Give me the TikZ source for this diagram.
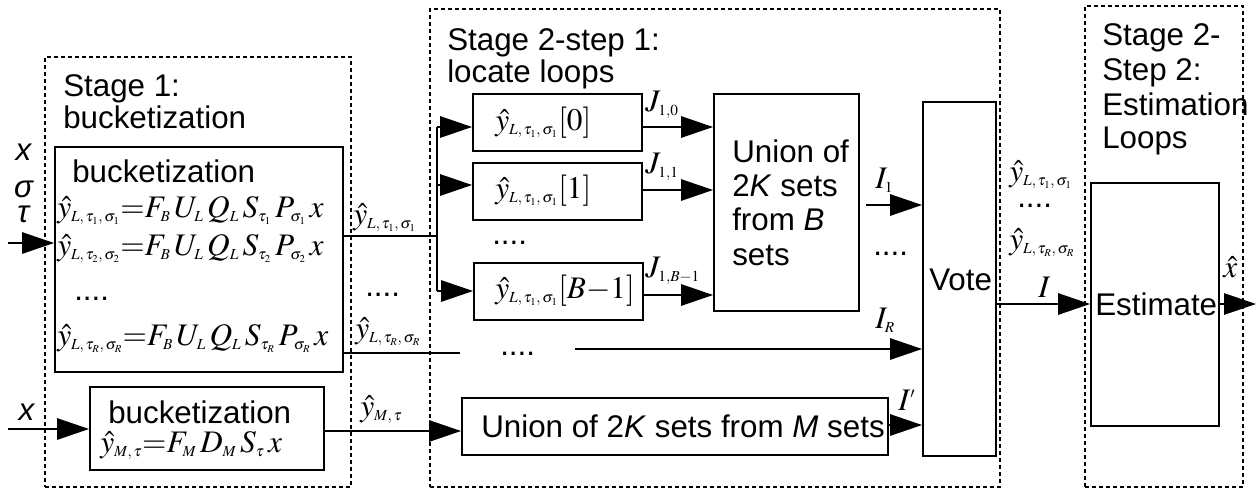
\documentclass[tikz,border=0pt]{standalone}
\usepackage{mathptmx}
\usepackage[no-math]{fontspec}
\setmainfont{Liberation Sans}
\usetikzlibrary{arrows.meta,fit}
\DeclareMathSizes{23.5}{23.5}{11.5}{8}
\newcommand{\bigfont}{\fontsize{23.5}{26}\selectfont}
\newcommand{\fsp}{\mskip2mu}
\newcommand{\sL}[2]{L,\,\tau_{#1},\,\sigma_{#2}}
\tikzset{
  blk/.style={draw, line width=1.4pt, inner sep=0pt},
  stage/.style={draw, line width=1.4pt, dash pattern=on 3pt off 2.25pt, inner sep=0pt},
  txt/.style={font=\bigfont, inner sep=0pt, anchor=base west},
  arr/.style={line width=1.4pt, -{Triangle[length=24pt,width=16pt]}},
  ln/.style={line width=1.4pt}
}
\begin{document}
\begin{tikzpicture}[x=0.75pt,y=-0.75pt]
\useasboundingbox (0,0) rectangle (1258,490);
% stage frames
\node[stage, fit={(45,57) (351,487)}] (st1) {};
\node[stage, fit={(430,9) (1000,487)}] (st2) {};
\node[stage, fit={(1085,6) (1243,487)}] (st3) {};
\node[txt] (st1a) at (63,96) {Stage 1:};
\node[txt] (st1b) at (63,128) {bucketization};
\node[txt] (st2a) at (447,50) {Stage 2-step 1:};
\node[txt] (st2b) at (447,82) {locate loops};
\node[txt] (st3a) at (1102,45) {Stage 2-};
\node[txt] (st3b) at (1102,80) {Step 2:};
\node[txt] (st3c) at (1102,115) {Estimation};
\node[txt] (st3d) at (1102,148) {Loops};
% stage 1 blocks
\node[blk, fit={(55,147) (343,372)}] (big) {};
\node[txt] (bigt) at (72,182) {bucketization};
\node[txt] (eq1) at (57,217) {$\hat y_{\sL11}{=}F_B\fsp U_L\fsp Q_L\fsp S_{\tau_1}\fsp P_{\sigma_1}\fsp x$};
\node[txt] (eq2) at (57,255) {$\hat y_{\sL22}{=}F_B\fsp U_L\fsp Q_L\fsp S_{\tau_2}\fsp P_{\sigma_2}\fsp x$};
\node[txt] (eqd) at (74,300) {....};
\node[txt] (eq3) at (57,345) {$\hat y_{\sL RR}{=}F_B\fsp U_L\fsp Q_L\fsp S_{\tau_R}\fsp P_{\sigma_R}\fsp x$};
\node[blk, fit={(90,387) (324,470)}] (small) {};
\node[txt] (smt) at (108,423) {bucketization};
\node[txt] (eqm) at (100,452) {$\hat y_{M,\,\tau}{=}F_M\fsp D_M\fsp S_\tau\fsp x$};
% inputs
\node[txt, anchor=base] (inx) at (24,160) {\textit{x}};
\node[txt, anchor=base] (ins) at (24,197) {\textit{σ}};
\node[txt, anchor=base] (int) at (24,222) {\textit{τ}};
\coordinate (in1) at (8,243);
\draw[arr] (in1) -- (in1 -| big.west);
\node[txt, anchor=base] (inx2) at (27,420) {\textit{x}};
\coordinate (in2) at (8,429);
\draw[arr] (in2) -- (in2 -| small.west);
% stage 2 step 1 boxes
\node[blk, fit={(473,94) (642,151)}] (b0) {};
\node[blk, fit={(473,163) (642,220)}] (b1) {};
\node[blk, fit={(474,263) (643,320)}] (bB) {};
\node[txt] (b0t) at (495,130) {$\hat y_{\sL11}[0]$};
\node[txt] (b1t) at (495,198) {$\hat y_{\sL11}[1]$};
\node[txt] (bBt) at (495,298) {$\hat y_{\sL11}[B{-}1]$};
\node[txt] (bdots) at (492,244) {....};
% branch
\coordinate (brm) at (437,236);
\coordinate (br0) at (437,127);
\coordinate (br1) at (437,185);
\coordinate (brB) at (437,291);
\draw[ln] (big.east |- brm) -- (brm);
\draw[ln] (br0) -- (brB);
\draw[arr] (br0) -- (br0 -| b0.west);
\draw[arr] (br1) -- (br1 -| b1.west);
\draw[arr] (brB) -- (brB -| bB.west);
\node[txt] (ly1) at (353,224) {$\hat y_{\sL11}$};
\node[txt] (mdots) at (365,296) {....};
% union
\node[blk, fit={(714,94) (859,311)}] (un) {};
\node[txt] (un1) at (732,162) {Union of};
\node[txt] (un2) at (732,196) {2\textit{K} sets};
\node[txt] (un3) at (732,230) {from \textit{B}};
\node[txt] (un4) at (732,265) {sets};
\coordinate (j0) at (680,127);
\coordinate (j1) at (680,190);
\coordinate (jB) at (680,295);
\draw[arr] (b0.east |- j0) -- (j0 -| un.west);
\draw[arr] (b1.east |- j1) -- (j1 -| un.west);
\draw[arr] (bB.east |- jB) -- (jB -| un.west);
\node[txt] (lj0) at (645,111) {$J_{1,0}$};
\node[txt] (lj1) at (645,173) {$J_{1,1}$};
\node[txt] (ljB) at (645,277) {$J_{1,B-1}$};
% vote
\node[blk, fit={(923,102) (996,456)}] (vote) {};
\node[txt] (votet) at (929,290) {Vote};
\coordinate (i1) at (866,205);
\draw[arr] (i1) -- (i1 -| vote.west);
\node[txt] (li1) at (875,188) {$I_1$};
\node[txt] (vdots) at (873,255) {....};
\coordinate (ir1) at (460,353);
\coordinate (ir2) at (575,349);
\draw[ln] (big.east |- ir1) -- (ir1);
\draw[arr] (ir2) -- (ir2 -| vote.west);
\node[txt] (irdots) at (500,355) {....};
\node[txt] (lir) at (875,328) {$I_R$};
\node[txt] (lyR) at (355,338) {$\hat y_{\sL RR}$};
% union M
\node[blk, fit={(462,398) (888,455)}] (unm) {};
\node[txt] (unmt) at (481,437) {Union of 2\textit{K} sets from \textit{M} sets};
\coordinate (mm) at (400,431);
\draw[arr] (small.east |- mm) -- (mm -| unm.west);
\node[txt] (lym) at (360,416) {$\hat y_{M,\,\tau}$};
\coordinate (ip) at (900,425);
\draw[arr] (unm.east |- ip) -- (ip -| vote.west);
\node[txt] (lip) at (898,410) {$I'$};
% estimate
\node[blk, fit={(1091,183) (1219,426)}] (est) {};
\node[txt] (estt) at (1095,315) {Estimate};
\coordinate (vi) at (1040,304);
\draw[arr] (vote.east |- vi) -- (vi -| est.west);
\node[txt] (li) at (1038,297) {$I$};
\node[txt] (ry1) at (1009,181) {$\hat y_{\sL11}$};
\node[txt] (rdots) at (1017,207) {....};
\node[txt] (ryR) at (1009,249) {$\hat y_{\sL RR}$};
\coordinate (out) at (1256,304);
\draw[arr] (est.east |- out) -- (out);
\node[txt] (lx) at (1223,277) {$\hat x$};
\end{tikzpicture}
\end{document}
